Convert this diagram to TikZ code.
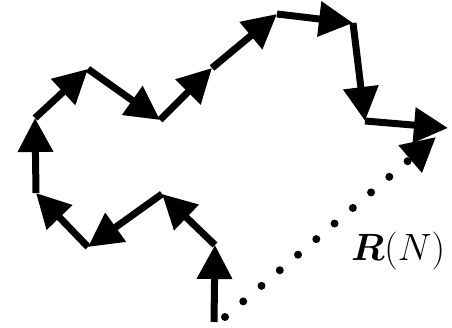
\RequirePackage{fix-cm}
\documentclass[tikz,border=0pt]{standalone}
\usepackage{amsmath, amssymb}
\usepackage{tikz}
\usetikzlibrary{arrows.meta}

\begin{document}
\begin{tikzpicture}[x=1pt, y=-1pt,
    bond/.style={line width=7pt, -{Triangle[length=34pt, width=34pt]}},
    endtoend/.style={line width=8pt, line cap=round, dash pattern=on 0pt off 24pt,
                     -{Triangle[length=34pt, width=34pt]}}]

\useasboundingbox (0,0) rectangle (452,328);

% ── chain vertices ────────────────────────────────────────
\coordinate (p0)  at (214, 322);
\coordinate (p1)  at (215, 245);
\coordinate (p2)  at (162, 194);
\coordinate (p3)  at (88, 247);
\coordinate (p4)  at (36, 193);
\coordinate (p5)  at (35, 118);
\coordinate (p6)  at (88, 69);
\coordinate (p7)  at (160, 120);
\coordinate (p8)  at (212, 68);
\coordinate (p9)  at (277, 14);
\coordinate (p10) at (353, 23);
\coordinate (p11) at (365, 121);
\coordinate (p12) at (448, 128);

% bonds, one arrow each
\foreach \a/\b in {p0/p1, p1/p2, p2/p3, p3/p4, p4/p5, p5/p6,
                   p6/p7, p7/p8, p8/p9, p9/p10, p10/p11, p11/p12}
    \draw[bond] (\a) -- (\b);

% end-to-end vector
\coordinate (r0) at (225, 317);
\coordinate (r1) at (436, 137);
\draw[endtoend] (r0) -- (r1);
\node[font=\fontsize{38}{44}\selectfont] (rlabel) at (398, 251) {$\boldsymbol{R}(N)$};

\end{tikzpicture}
\end{document}
